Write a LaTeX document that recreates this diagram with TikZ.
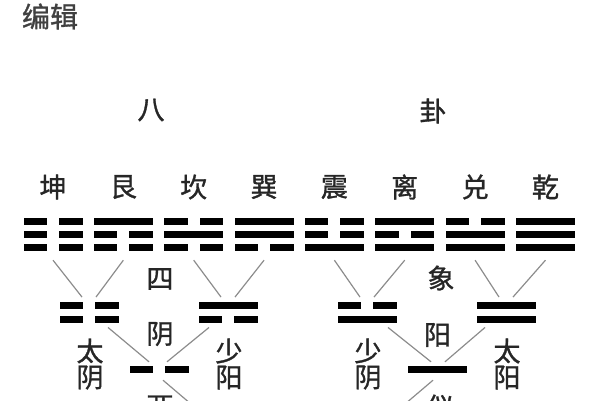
\documentclass[tikz,border=0pt]{standalone}
\usepackage{fontspec}
\setmainfont{Noto Sans CJK SC}[FakeBold=1.2]

\tikzset{
  gua/.style={minimum width=60pt, minimum height=51pt, inner sep=0pt},
  xiang/.style={minimum width=60pt, minimum height=30pt, inner sep=0pt},
  yi/.style={minimum width=60pt, minimum height=14pt, inner sep=0pt},
  zi/.style={font=\fontsize{27}{26}\selectfont, text=black!85, inner sep=0pt, align=center},
  branch/.style={black!45, line width=1.2pt}
}
% one line (yao) of a symbol: centre x, centre y, 1 = yang / 0 = yin
\newcommand{\yao}[3]{%
  \ifnum#3=1\relax
    \fill (#1-29.5,#2-3.5) rectangle (#1+29.5,#2+3.5);
  \else
    \fill (#1-29.5,#2-3.5) rectangle (#1-6,#2+3.5);
    \fill (#1+6,#2-3.5) rectangle (#1+29.5,#2+3.5);
  \fi}

\begin{document}
\begin{tikzpicture}[x=1pt, y=-1pt]
\clip (0,0) rectangle (600,400);
\node[zi, font=\fontsize{28}{28}\selectfont, text=black!75] (title) at (50,16.5) {编辑};
\node[zi] (ba) at (151,110) {八};
\node[zi] (gualabel) at (433,111) {卦};

% eight trigrams, lines listed top to bottom
\foreach \n/\t/\a/\b/\c [count=\i from 0] in
  {kun/坤/0/0/0, gen/艮/1/0/0, kan/坎/0/1/0, xun/巽/1/1/0,
   zhen/震/0/0/1, li/离/1/0/1, dui/兑/0/1/1, qian/乾/1/1/1} {
  \node[gua] (\n) at ({53+70.35*\i},234.5) {};
  \node[zi] (\n-name) at ({53+70.35*\i},187) {\t};
  \yao{53+70.35*\i}{221}{\a}
  \yao{53+70.35*\i}{234.5}{\b}
  \yao{53+70.35*\i}{247}{\c}
}

% four images
\foreach \n/\a/\b/\x in {taiyin/0/0/89, shaoyang/1/0/228, shaoyin/0/1/367, taiyang/1/1/506} {
  \node[xiang] (\n) at (\x,312.25) {};
  \yao{\x}{305.5}{\a}
  \yao{\x}{319}{\b}
}

% two modes
\node[yi] (yin) at (159,369) {};
\yao{159}{369}{0}
\node[yi] (yang) at (437,369) {};
\yao{437}{369}{1}
\coordinate (taiji) at (298,495);

\draw[branch] (kun.south) -- ([xshift=-7pt]taiyin.north);
\draw[branch] (gen.south) -- ([xshift=7pt]taiyin.north);
\draw[branch] (kan.south) -- ([xshift=-7pt]shaoyang.north);
\draw[branch] (xun.south) -- ([xshift=7pt]shaoyang.north);
\draw[branch] (zhen.south) -- ([xshift=-7pt]shaoyin.north);
\draw[branch] (li.south) -- ([xshift=7pt]shaoyin.north);
\draw[branch] (dui.south) -- ([xshift=-7pt]taiyang.north);
\draw[branch] (qian.south) -- ([xshift=7pt]taiyang.north);

\draw[branch] ([xshift=19pt]taiyin.south) -- ([xshift=-10pt]yin.north);
\draw[branch] ([xshift=-19pt]shaoyang.south) -- ([xshift=8pt]yin.north);
\draw[branch] ([xshift=21pt]shaoyin.south) -- ([xshift=-6pt]yang.north);
\draw[branch] ([xshift=-21pt]taiyang.south) -- ([xshift=8pt]yang.north);

\draw[branch] ([xshift=4pt,yshift=-4pt]yin.south) -- (taiji);
\draw[branch] ([xshift=-4pt,yshift=-4pt]yang.south) -- (taiji);

\node[zi] (si) at (160,279) {四};
\node[zi] (xianglabel) at (441,278) {象};
\node[zi] (yinlabel) at (160,334) {阴};
\node[zi] (yanglabel) at (437.5,335) {阳};
\node[zi] (taiyin-name) at (90,364) {太\\阴};
\node[zi] (shaoyang-name) at (229,364) {少\\阳};
\node[zi] (shaoyin-name) at (368,364) {少\\阴};
\node[zi] (taiyang-name) at (507,364) {太\\阳};
\node[zi] (liang) at (160,407) {两};
\node[zi] (yilabel) at (440,407) {仪};
\end{tikzpicture}
\end{document}
